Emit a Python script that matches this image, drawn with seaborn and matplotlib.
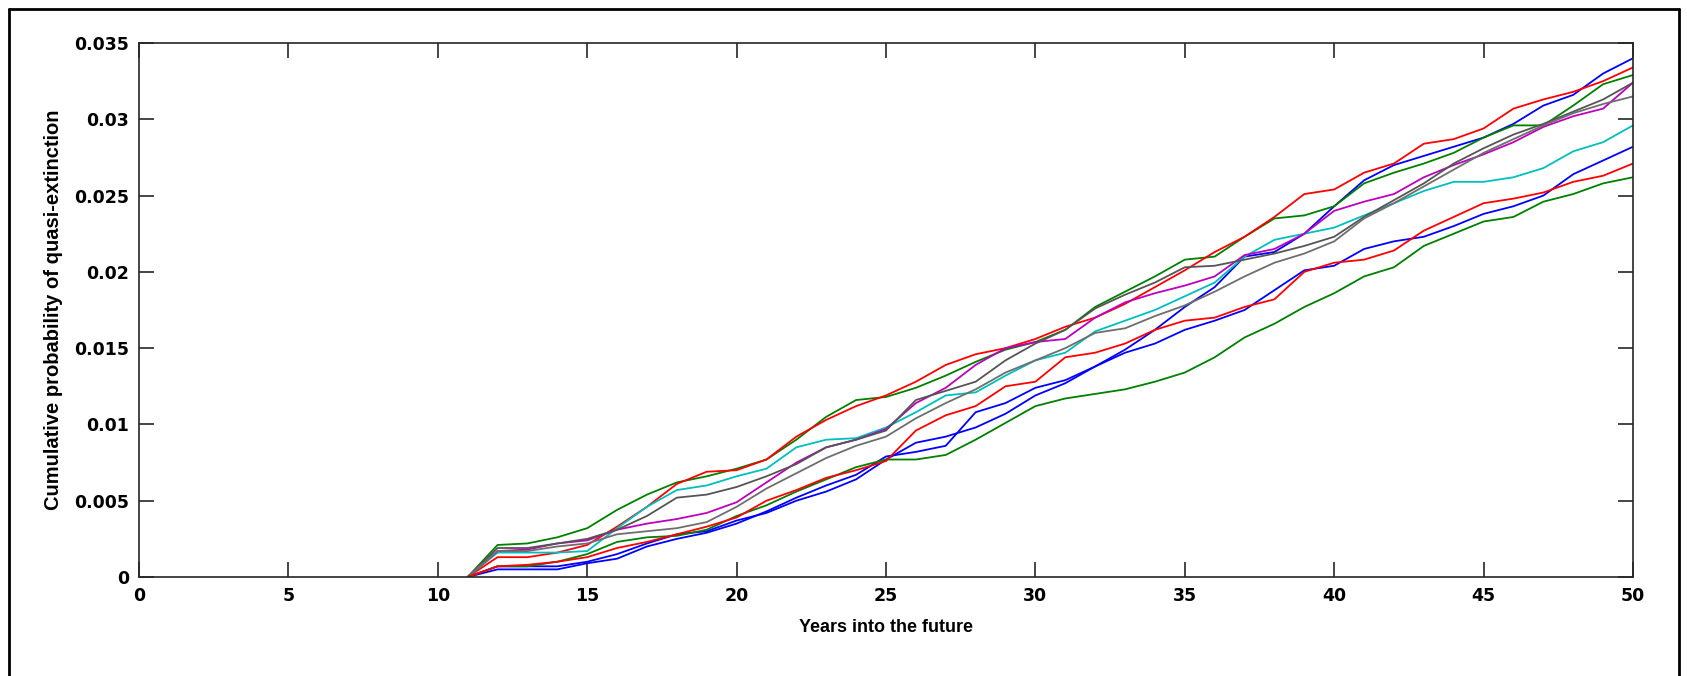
import matplotlib
matplotlib.use("Agg")
import matplotlib.pyplot as plt
from matplotlib.lines import Line2D
from matplotlib.ticker import FixedLocator, FuncFormatter
import numpy as np
import pandas as pd
import seaborn as sns

# ---------------- data ----------------
years = list(range(11, 51))

run_b1 = [0, .0007, .0007, .0007, .0010, .0015, .0022, .0028, .0030, .0037,
          .0042, .0050, .0056, .0064, .0077, .0088, .0092, .0098, .0107, .0119,
          .0127, .0138, .0149, .0162, .0177, .0190, .0210, .0213, .0225, .0243,
          .0260, .0270, .0276, .0282, .0288, .0297, .0309, .0316, .0330, .0340]
run_g1 = [0, .0021, .0022, .0026, .0032, .0044, .0054, .0062, .0066, .0071,
          .0077, .0090, .0105, .0116, .0118, .0124, .0132, .0141, .0149, .0154,
          .0162, .0177, .0187, .0197, .0208, .0210, .0223, .0235, .0237, .0243,
          .0258, .0265, .0271, .0278, .0288, .0296, .0296, .0309, .0323, .0329]
run_r1 = [0, .0013, .0013, .0016, .0021, .0033, .0046, .0061, .0069, .0070,
          .0077, .0092, .0103, .0112, .0119, .0128, .0139, .0146, .0150, .0156,
          .0164, .0170, .0179, .0190, .0201, .0213, .0223, .0236, .0251, .0254,
          .0265, .0271, .0284, .0287, .0294, .0307, .0313, .0318, .0325, .0334]
run_c = [0, .0016, .0016, .0016, .0017, .0032, .0046, .0057, .0060, .0066,
         .0071, .0085, .0090, .0091, .0098, .0108, .0119, .0121, .0132, .0142,
         .0147, .0161, .0168, .0175, .0184, .0193, .0210, .0221, .0225, .0229,
         .0237, .0245, .0253, .0259, .0259, .0262, .0268, .0279, .0285, .0296]
run_m = [0, .0017, .0018, .0022, .0024, .0031, .0035, .0038, .0042, .0049,
         .0062, .0075, .0085, .0090, .0097, .0114, .0124, .0139, .0150, .0154,
         .0156, .0170, .0180, .0186, .0191, .0197, .0211, .0215, .0225, .0240,
         .0246, .0251, .0262, .0270, .0277, .0285, .0295, .0302, .0307, .0324]
run_k1 = [0, .0019, .0019, .0022, .0025, .0031, .0040, .0052, .0054, .0059,
          .0066, .0074, .0085, .0090, .0096, .0116, .0122, .0128, .0142, .0153,
          .0162, .0176, .0185, .0193, .0203, .0204, .0208, .0212, .0217, .0223,
          .0236, .0247, .0258, .0271, .0281, .0290, .0297, .0305, .0313, .0324]
run_k2 = [0, .0017, .0017, .0020, .0022, .0028, .0030, .0032, .0036, .0046,
          .0058, .0068, .0078, .0086, .0092, .0104, .0114, .0123, .0134, .0142,
          .0150, .0160, .0163, .0171, .0178, .0187, .0197, .0206, .0212, .0220,
          .0235, .0245, .0256, .0267, .0278, .0287, .0296, .0304, .0310, .0315]
run_b2 = [0, .0005, .0005, .0005, .0009, .0012, .0020, .0025, .0029, .0035,
          .0043, .0052, .0060, .0067, .0079, .0082, .0086, .0108, .0114, .0124,
          .0129, .0138, .0147, .0153, .0162, .0168, .0175, .0188, .0201, .0204,
          .0215, .0220, .0223, .0230, .0238, .0243, .0250, .0264, .0273, .0282]
run_g2 = [0, .0007, .0007, .0010, .0015, .0023, .0026, .0027, .0031, .0040,
          .0047, .0056, .0064, .0072, .0077, .0077, .0080, .0090, .0101, .0112,
          .0117, .0120, .0123, .0128, .0134, .0144, .0157, .0166, .0177, .0186,
          .0197, .0203, .0217, .0225, .0233, .0236, .0246, .0251, .0258, .0262]
run_r2 = [0, .0007, .0008, .0010, .0013, .0019, .0023, .0028, .0033, .0039,
          .0050, .0057, .0065, .0070, .0076, .0096, .0106, .0112, .0125, .0128,
          .0144, .0147, .0153, .0162, .0168, .0170, .0177, .0182, .0200, .0206,
          .0208, .0214, .0227, .0236, .0245, .0248, .0252, .0259, .0263, .0271]

run_names = ["b1", "g1", "r1", "c", "m", "k1", "k2", "b2", "g2", "r2"]
run_values = [run_b1, run_g1, run_r1, run_c, run_m, run_k1, run_k2,
              run_b2, run_g2, run_r2]
run_colors = ["#0000ff", "#008000", "#ff0000", "#00bfbf", "#bf00bf",
              "#555555", "#6e6e6e", "#0000ff", "#008000", "#ff0000"]

x_ticks = [0, 5, 10, 15, 20, 25, 30, 35, 40, 45, 50]
y_ticks = [0, 0.005, 0.01, 0.015, 0.02, 0.025, 0.03, 0.035]

xlabel_text = "Years into the future"
ylabel_text = "Cumulative probability of quasi-extinction"

# ---------------- build long table ----------------
df = pd.DataFrame({
    "year": np.tile(years, len(run_names)),
    "prob": np.concatenate([np.asarray(v, dtype=float) for v in run_values]),
    "run": np.repeat(run_names, len(years)),
})

# ---------------- style ----------------
sns.set_style("white")
plt.rcParams["font.family"] = ["Liberation Sans", "DejaVu Sans"]

W, H, DPI = 1687, 676, 100
fig = plt.figure(figsize=(W / DPI, H / DPI), dpi=DPI)
fig.patch.set_facecolor("white")

left_px, right_px, top_px, bottom_px = 139, 1633, 43, 577
ax = fig.add_axes([left_px / W, 1 - bottom_px / H,
                   (right_px - left_px) / W, (bottom_px - top_px) / H])
ax.set_facecolor("white")

sns.lineplot(data=df, x="year", y="prob", hue="run", hue_order=run_names,
             palette=dict(zip(run_names, run_colors)), legend=False,
             linewidth=1.3, ax=ax, estimator=None, sort=True)

ax.set_xlim(0, 50)
ax.set_ylim(0, 0.035)
ax.xaxis.set_major_locator(FixedLocator(x_ticks))
ax.yaxis.set_major_locator(FixedLocator(y_ticks))
ax.yaxis.set_major_formatter(FuncFormatter(lambda v, p: "0" if v == 0 else f"{v:g}"))
ax.xaxis.set_major_formatter(FuncFormatter(lambda v, p: f"{v:g}"))

for s in ax.spines.values():
    s.set_visible(True)
    s.set_color("#262626")
    s.set_linewidth(1.2)

ax.tick_params(axis="both", which="major", direction="in", length=11,
               width=1.2, color="#262626", top=True, right=True,
               bottom=True, left=True, pad=7)
for lab in ax.get_xticklabels() + ax.get_yticklabels():
    lab.set_fontfamily(["DejaVu Sans"])
    lab.set_fontweight("bold")
    lab.set_fontsize(12.5)
    lab.set_color("black")

ax.set_xlabel(xlabel_text, fontsize=13, fontweight="bold", labelpad=10,
              color="black")
ax.set_ylabel(ylabel_text, fontsize=14.5, fontweight="bold", labelpad=8,
              color="black")

# outer frame of the figure window (open at the bottom)
fx0, fx1, fy0 = 9 / W, 1679 / W, 1 - 9 / H
for xs, ys in [([fx0, fx0], [0, fy0]), ([fx0, fx1], [fy0, fy0]),
               ([fx1, fx1], [fy0, 0])]:
    fig.add_artist(Line2D(xs, ys, transform=fig.transFigure, color="black",
                          linewidth=2.0))

fig.savefig("out.png", dpi=DPI, facecolor="white")
